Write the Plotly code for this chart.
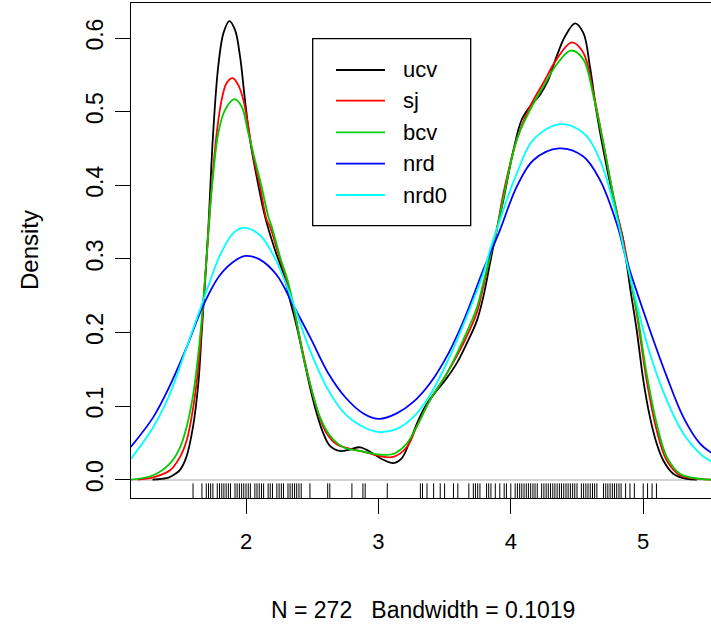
import plotly.graph_objects as go

# ---------------- data ----------------
ucv_x = [1.294, 1.40, 1.43, 1.50, 1.55, 1.60, 1.64, 1.665, 1.69, 1.715, 1.75, 1.79, 1.83, 1.874, 1.917,
         1.955, 1.992, 2.03, 2.08, 2.144, 2.219, 2.282, 2.332, 2.383, 2.433, 2.483, 2.534, 2.584, 2.634,
         2.71, 2.785, 2.861, 2.937, 3.037, 3.113, 3.176, 3.239, 3.302, 3.365, 3.44, 3.516, 3.591, 3.667,
         3.742, 3.792, 3.843, 3.893, 3.944, 4.02, 4.082, 4.145, 4.221, 4.283, 4.346, 4.409, 4.485, 4.548,
         4.598, 4.649, 4.724, 4.80, 4.85, 4.875, 4.90, 4.951, 5.001, 5.051, 5.102, 5.152, 5.227, 5.328, 5.405]
ucv_y = [0.000, 0.002, 0.004, 0.013, 0.031, 0.072, 0.131, 0.199, 0.267, 0.340, 0.465, 0.561, 0.607, 0.623, 0.611,
         0.575, 0.516, 0.462, 0.412, 0.357, 0.312, 0.280, 0.244, 0.208, 0.167, 0.126, 0.090, 0.063, 0.046,
         0.039, 0.041, 0.044, 0.038, 0.027, 0.0226, 0.029, 0.053, 0.081, 0.103, 0.121, 0.138, 0.158, 0.185,
         0.215, 0.248, 0.294, 0.339, 0.380, 0.448, 0.489, 0.507, 0.523, 0.543, 0.575, 0.602, 0.620, 0.607,
         0.561, 0.498, 0.425, 0.362, 0.325, 0.294, 0.262, 0.203, 0.135, 0.085, 0.049, 0.026, 0.008, 0.001, 0.000]

sj_x = [1.18, 1.30, 1.426, 1.502, 1.552, 1.602, 1.640, 1.665, 1.690, 1.723, 1.741, 1.779, 1.816, 1.854, 1.900,
        1.942, 1.980, 2.017, 2.055, 2.106, 2.156, 2.181, 2.244, 2.307, 2.357, 2.421, 2.483, 2.546, 2.609, 2.685,
        2.785, 2.886, 3.012, 3.113, 3.214, 3.289, 3.390, 3.516, 3.641, 3.742, 3.792, 3.843, 3.893, 3.944, 4.045,
        4.145, 4.245, 4.346, 4.460, 4.548, 4.624, 4.699, 4.775, 4.850, 4.888, 4.951, 5.026, 5.102, 5.178, 5.278,
        5.43, 5.52]
sj_y = [0.000, 0.003, 0.0127, 0.031, 0.0535, 0.099, 0.153, 0.208, 0.271, 0.353, 0.398, 0.471, 0.516, 0.539, 0.5456,
        0.536, 0.516, 0.480, 0.439, 0.398, 0.353, 0.344, 0.307, 0.271, 0.235, 0.180, 0.131, 0.090, 0.063, 0.048,
        0.042, 0.038, 0.032, 0.031, 0.044, 0.072, 0.108, 0.144, 0.185, 0.226, 0.262, 0.303, 0.339, 0.389, 0.462,
        0.507, 0.539, 0.571, 0.594, 0.580, 0.525, 0.457, 0.385, 0.325, 0.290, 0.226, 0.135, 0.067, 0.026, 0.006,
        0.001, 0.000]

bcv_x = [1.12, 1.30, 1.426, 1.502, 1.552, 1.602, 1.640, 1.678, 1.708, 1.723, 1.753, 1.791, 1.841, 1.912, 1.967,
         2.017, 2.068, 2.118, 2.169, 2.194, 2.257, 2.320, 2.370, 2.433, 2.496, 2.559, 2.634, 2.735, 2.861, 3.012,
         3.113, 3.214, 3.289, 3.390, 3.516, 3.641, 3.742, 3.792, 3.893, 4.045, 4.145, 4.245, 4.346, 4.452, 4.548,
         4.624, 4.699, 4.775, 4.850, 4.951, 5.026, 5.102, 5.178, 5.278, 5.43, 5.52]
bcv_y = [0.000, 0.006, 0.022, 0.044, 0.072, 0.117, 0.171, 0.244, 0.316, 0.357, 0.416, 0.471, 0.502, 0.517, 0.507,
         0.471, 0.434, 0.398, 0.357, 0.344, 0.303, 0.267, 0.226, 0.167, 0.122, 0.085, 0.060, 0.044, 0.039, 0.034,
         0.035, 0.049, 0.072, 0.108, 0.144, 0.190, 0.233, 0.267, 0.339, 0.462, 0.502, 0.534, 0.564, 0.583, 0.571,
         0.521, 0.457, 0.385, 0.318, 0.230, 0.144, 0.076, 0.031, 0.008, 0.001, 0.000]

nrd_x = [1.13, 1.30, 1.426, 1.552, 1.678, 1.804, 1.930, 2.0, 2.106, 2.232, 2.357, 2.483, 2.62, 2.75, 2.886,
         3.007, 3.138, 3.264, 3.390, 3.53, 3.655, 3.792, 3.856, 3.918, 4.045, 4.170, 4.364, 4.548, 4.674, 4.800,
         4.875, 5.051, 5.178, 5.303, 5.429, 5.52]
nrd_y = [0.0445, 0.085, 0.128, 0.180, 0.237, 0.278, 0.299, 0.304, 0.299, 0.278, 0.237, 0.194, 0.145, 0.112, 0.090,
         0.0825, 0.090, 0.1056, 0.131, 0.172, 0.221, 0.285, 0.312, 0.339, 0.398, 0.434, 0.450, 0.439, 0.407, 0.348,
         0.298, 0.203, 0.140, 0.085, 0.049, 0.036]

nrd0_x = [1.13, 1.300, 1.426, 1.552, 1.678, 1.804, 1.904, 1.985, 2.106, 2.232, 2.357, 2.483, 2.62, 2.75, 2.886,
          3.007, 3.138, 3.264, 3.390, 3.53, 3.655, 3.792, 3.843, 3.892, 4.045, 4.170, 4.372, 4.548, 4.674, 4.800,
          4.875, 5.051, 5.178, 5.303, 5.429, 5.52]
nrd0_y = [0.028, 0.0716, 0.117, 0.180, 0.244, 0.305, 0.335, 0.342, 0.332, 0.296, 0.239, 0.176, 0.122, 0.089, 0.0716,
          0.0648, 0.069, 0.085, 0.115, 0.164, 0.216, 0.280, 0.312, 0.339, 0.416, 0.462, 0.483, 0.471, 0.434, 0.357,
          0.296, 0.171, 0.108, 0.0626, 0.0354, 0.024]

rug_x = [1.600, 1.667, 1.700, 1.717, 1.733, 1.750, 1.783, 1.800, 1.817, 1.833, 1.850, 1.867, 1.883, 1.917, 1.933,
         1.950, 1.967, 1.983, 2.000, 2.017, 2.033, 2.067, 2.083, 2.100, 2.117, 2.133, 2.167, 2.183, 2.200, 2.233,
         2.250, 2.267, 2.283, 2.317, 2.333, 2.350, 2.367, 2.383, 2.400, 2.417, 2.483, 2.617, 2.633, 2.800, 2.883,
         2.900, 3.067, 3.317, 3.333, 3.367, 3.417, 3.467, 3.500, 3.567, 3.600, 3.683, 3.717, 3.733, 3.750, 3.767,
         3.817, 3.833, 3.850, 3.883, 3.917, 3.950, 3.967, 4.000, 4.033, 4.050, 4.067, 4.083, 4.100, 4.117, 4.133,
         4.150, 4.167, 4.183, 4.200, 4.233, 4.250, 4.267, 4.283, 4.300, 4.317, 4.333, 4.350, 4.367, 4.383, 4.400,
         4.417, 4.433, 4.450, 4.467, 4.483, 4.500, 4.533, 4.550, 4.567, 4.583, 4.600, 4.617, 4.633, 4.650, 4.700,
         4.717, 4.733, 4.750, 4.767, 4.783, 4.800, 4.817, 4.833, 4.867, 4.900, 4.933, 5.000, 5.033, 5.067, 5.100]

series_names = ["ucv", "sj", "bcv", "nrd", "nrd0"]
series_colors = ["#000000", "#FF0000", "#00CD00", "#0000FF", "#00FFFF"]
series_x = [ucv_x, sj_x, bcv_x, nrd_x, nrd0_x]
series_y = [ucv_y, sj_y, bcv_y, nrd_y, nrd0_y]
y_ticks = [0.0, 0.1, 0.2, 0.3, 0.4, 0.5, 0.6]
x_ticks = [2, 3, 4, 5]
x_title = "N = 272\u00a0\u00a0\u00a0Bandwidth = 0.1019"
y_title = "Density"

# ---------------- layout geometry ----------------
W, H = 711, 626
ML, MR, MT, MB = 131, 0, 3, 128
PW, PH = W - ML - MR, H - MT - MB
FONT = "Liberation Sans, Arial, Helvetica, sans-serif"
FS = 22


def px_x(p):
    return (p - ML) / PW


def px_y(p):
    return (H - MB - p) / PH


fig = go.Figure()

for name, col, xs, ys in zip(series_names, series_colors, series_x, series_y):
    fig.add_trace(go.Scatter(x=xs, y=ys, mode="lines", name=name,
                             line=dict(color=col, width=1.8, shape="spline", smoothing=1.0),
                             showlegend=False, hoverinfo="skip"))

# rug (on a small helper axis occupying the bottom 3% of the plot)
rx, ry = [], []
for v in rug_x:
    rx += [v, v, None]
    ry += [0, 1, None]
fig.add_trace(go.Scatter(x=rx, y=ry, mode="lines", yaxis="y2",
                         line=dict(color="black", width=1), showlegend=False, hoverinfo="skip"))

fig.update_layout(
    width=W, height=H,
    margin=dict(l=ML, r=MR, t=MT, b=MB, pad=0),
    paper_bgcolor="white", plot_bgcolor="white",
    font=dict(family=FONT, size=FS, color="black"),
    xaxis=dict(range=[1.1314, 5.5121], tickvals=x_ticks, ticktext=[str(v) for v in x_ticks],
               showgrid=False, zeroline=False, showline=True, linecolor="black", linewidth=1.3,
               mirror=True, ticks="outside", ticklen=15, tickwidth=1.3, tickcolor="black",
               ticklabelstandoff=8, tickfont=dict(size=FS), anchor="y", domain=[0, 1]),
    yaxis=dict(range=[-0.0249, 0.6476], tickvals=y_ticks, ticktext=["%.1f" % v for v in y_ticks],
               showgrid=False, zeroline=True, zerolinecolor="#D3D3D3", zerolinewidth=2,
               showline=True, linecolor="black", linewidth=1.3, mirror=False,
               ticks="outside", ticklen=15, tickwidth=1.3, tickcolor="black",
               tickangle=-90, ticklabelstandoff=3, tickfont=dict(size=FS + 1), domain=[0, 1]),
    yaxis2=dict(domain=[0, 0.03], range=[0, 1], anchor="x", visible=False,
                showgrid=False, zeroline=False, fixedrange=True),
)

# legend box (drawn manually to mimic base-R legend)
shapes = [dict(type="rect", xref="paper", yref="paper",
               x0=px_x(312.7), x1=px_x(470.7), y0=px_y(225.7), y1=px_y(38.7),
               line=dict(color="black", width=1.3), fillcolor="white", layer="above")]
annotations = []
row_py = [70, 100.7, 132.3, 163.7, 195]
for name, col, py in zip(series_names, series_colors, row_py):
    shapes.append(dict(type="line", xref="paper", yref="paper", x0=px_x(336), x1=px_x(385),
                       y0=px_y(py), y1=px_y(py), line=dict(color=col, width=1.8), layer="above"))
    annotations.append(dict(xref="paper", yref="paper", x=px_x(401), y=px_y(py), text=name,
                            showarrow=False, xanchor="left", yanchor="middle",
                            font=dict(size=FS, family=FONT, color="black")))

annotations.append(dict(xref="paper", yref="paper", x=px_x(423), y=px_y(610), text=x_title,
                        showarrow=False, xanchor="center", yanchor="middle",
                        font=dict(size=FS + 1, family=FONT)))
annotations.append(dict(xref="paper", yref="paper", x=px_x(29), y=px_y(250), text=y_title,
                        showarrow=False, xanchor="center", yanchor="middle", textangle=-90,
                        font=dict(size=FS + 2, family=FONT)))

fig.update_layout(shapes=shapes, annotations=annotations)
fig.write_html("out.html", config={"displayModeBar": False},
               post_script="document.body.style.margin='0';document.body.style.overflow='hidden';")
